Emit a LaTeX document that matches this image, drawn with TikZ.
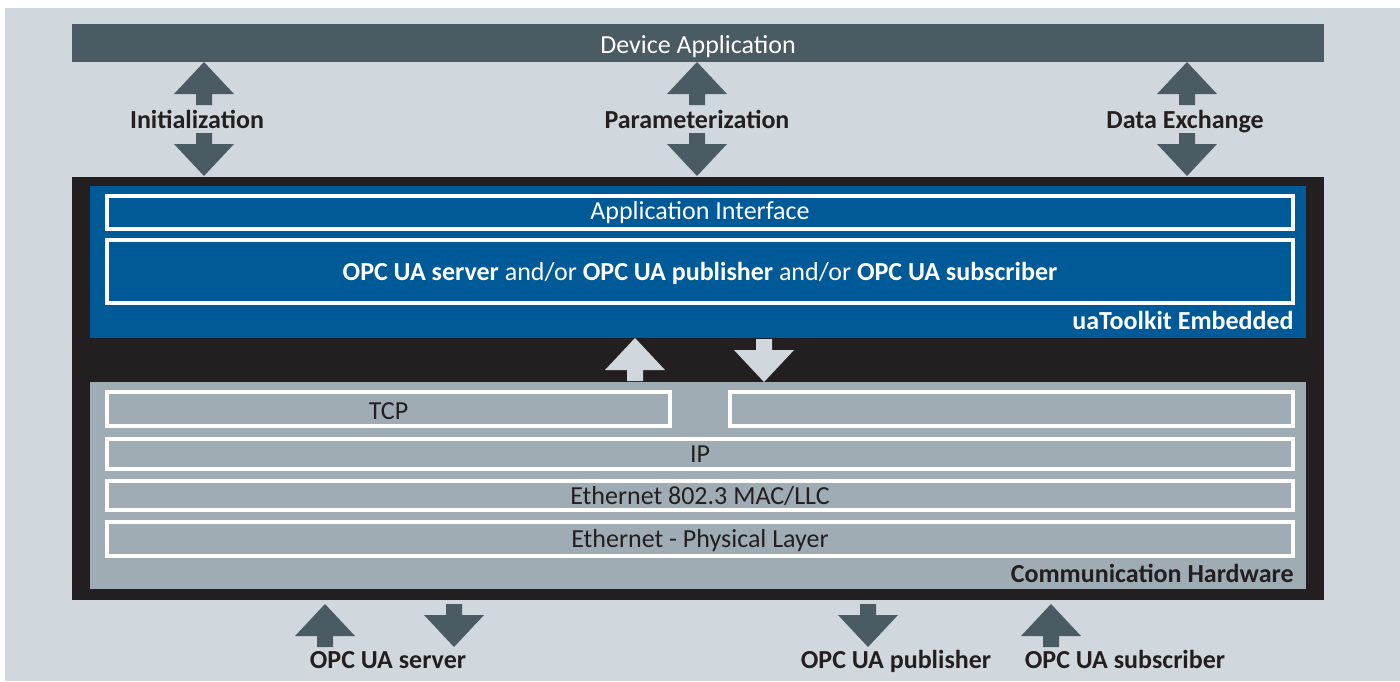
\documentclass[tikz,border=0pt]{standalone}
\usepackage{fontspec}
\setmainfont{Carlito}
\usetikzlibrary{fit}
\definecolor{bgc}{RGB}{208,216,222}
\definecolor{darkc}{RGB}{75,91,99}
\definecolor{blackc}{RGB}{35,31,32}
\definecolor{bluec}{RGB}{0,90,152}
\definecolor{grayc}{RGB}{159,172,180}
\tikzset{
  area/.style={inner sep=0pt, outer sep=0pt, draw=none},
  wbox/.style={inner sep=0pt, outer sep=0pt, draw=white, line width=2pt},
  txt/.style={font=\fontsize{13}{15.6}\selectfont, inner sep=0pt, anchor=base},
  lbl/.style={txt, font=\fontsize{13}{15.6}\selectfont\bfseries, text=blackc, anchor=base},
  uparr/.pic={\fill (0,0) -- (30,32) -- (8,32) -- (8,43) -- (-8,43) -- (-8,32) -- (-30,32) -- cycle;},
  downarr/.pic={\fill (-8,0) -- (8,0) -- (8,11) -- (30,11) -- (0,43) -- (-30,11) -- (-8,11) -- cycle;}
}
\begin{document}
\begin{tikzpicture}[x=0.5pt,y=-0.5pt]
\useasboundingbox (0,0) rectangle (1400,681);
\fill[white] (0,0) rectangle (1400,681);
\fill[bgc] (5,8) rectangle (1400,681);

% top bar
\node[area, fill=darkc, fit={(72,24)(1324,62)}] (dev) {};
\node[txt, text=white] at (dev.center |- 0,53) {Device Application};

% top arrows
\pic[darkc] at (204,62) {uparr};
\pic[darkc] at (204,133) {downarr};
\pic[darkc] at (697,62) {uparr};
\pic[darkc] at (697,133) {downarr};
\pic[darkc] at (1187,62) {uparr};
\pic[darkc] at (1187,133) {downarr};
\node[lbl] (init) at (197,128) {Initialization};
\node[lbl] (param) at (697,128) {Parameterization};
\node[lbl] (dex) at (1185,128) {Data Exchange};

% black frame
\node[area, fill=blackc, fit={(72,177)(1324,600)}] (frame) {};

% blue block
\node[area, fill=bluec, fit={(90,186)(1306,338)}] (ua) {};
\node[wbox, fit={(107,196)(1293,229)}] (api) {};
\node[txt, text=white] at (api.center |- 0,219) {Application Interface};
\node[wbox, fit={(107,240)(1293,303)}] (opc) {};
\node[txt, text=white] at (opc.center |- 0,280) {\textbf{OPC UA server} and/or \textbf{OPC UA publisher} and/or \textbf{OPC UA subscriber}};
\node[txt, font=\fontsize{13}{15.6}\selectfont\bfseries, text=white, anchor=base east] at (1294,329) {uaToolkit Embedded};

% middle arrows
\pic[bgc] at (635,338) {uparr};
\pic[bgc] at (764,339) {downarr};

% gray block
\node[area, fill=grayc, fit={(90,382)(1306,589)}] (hw) {};
\node[wbox, fit={(107,392)(670,426)}] (tcp) {};
\node[txt, text=blackc] at (tcp.center |- 0,419) {TCP};
\node[wbox, fit={(730,392)(1293,426)}] (udp) {};
\node[wbox, fit={(107,439)(1293,469)}] (ip) {};
\node[txt, text=blackc] at (ip.center |- 0,462) {IP};
\node[wbox, fit={(107,481)(1293,510)}] (mac) {};
\node[txt, text=blackc] at (mac.center |- 0,504) {Ethernet 802.3 MAC/LLC};
\node[wbox, fit={(107,522)(1293,556)}] (phy) {};
\node[txt, text=blackc] at (phy.center |- 0,547) {Ethernet - Physical Layer};
\node[txt, font=\fontsize{13}{15.6}\selectfont\bfseries, text=blackc, anchor=base east] at (1294,582) {Communication Hardware};

% bottom arrows
\pic[darkc] at (325,604) {uparr};
\pic[darkc] at (454,604) {downarr};
\pic[darkc] at (868,604) {downarr};
\pic[darkc] at (1051,604) {uparr};
\node[lbl] (srv) at (388,668) {OPC UA server};
\node[lbl] (pub) at (896,668) {OPC UA publisher};
\node[lbl] (sub) at (1125,668) {OPC UA subscriber};
\end{tikzpicture}
\end{document}
